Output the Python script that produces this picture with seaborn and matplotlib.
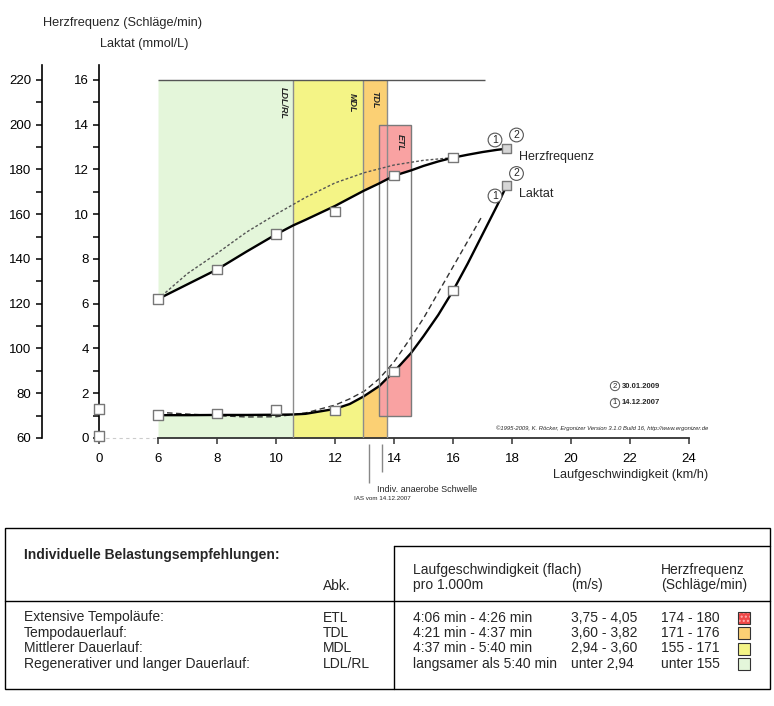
import numpy as np
import pandas as pd
import matplotlib.pyplot as plt
import seaborn as sns
from matplotlib.patches import Rectangle

sns.set_style("ticks")
plt.rcParams['font.family'] = ['Liberation Sans', 'DejaVu Sans']

# Stufentest 30.01.2009 (durchgezogene Kurven)
speed_2009 = [6, 7, 8, 9, 10, 10.58, 11, 12, 12.5, 12.96, 13.5, 13.75, 14, 14.58,
              15, 15.5, 16, 16.5, 17, 17.5, 17.82]
hf_2009 = [122.1, 128.7, 135.3, 143.3, 151.0, 155.0, 157.5, 163.7, 167.2, 170.4, 173.8,
           175.5, 177.2, 179.6, 181.6, 183.6, 185.3, 186.6, 187.8, 188.8, 189.3]
laktat_2009 = [1.02, 1.02, 1.03, 1.03, 1.04, 1.05, 1.08, 1.30, 1.52, 1.85, 2.32, 2.65,
               2.96, 3.80, 4.55, 5.50, 6.58, 7.80, 9.10, 10.40, 11.28]

# Stufentest 14.12.2007 (gestrichelte Kurven)
speed_hf_2007 = [6, 7, 8, 9, 10, 11, 12, 13, 14, 15, 16]
hf_2007 = [122.1, 133.5, 142.5, 152.0, 160.0, 167.5, 174.0, 178.6, 182.0, 184.1, 185.3]
speed_lak_2007 = [6, 7, 8, 9, 10, 11, 12, 12.5, 13, 13.5, 14, 14.5, 15, 15.5, 16, 16.5, 17]
laktat_2007 = [1.15, 1.07, 1.00, 0.94, 0.95, 1.12, 1.47, 1.75, 2.10, 2.65, 3.40, 4.35,
               5.35, 6.50, 7.65, 8.80, 9.95]

# Messpunkte
speed_pts = [6, 8, 10, 12, 14, 16, 17.82]
hf_pts = [122.1, 135.2, 151.2, 161.3, 177.2, 185.3, 189.3]
laktat_pts = [1.03, 1.10, 1.27, 1.22, 2.98, 6.58, 11.28]
pts_fill = ['w', 'w', 'w', 'w', 'w', 'w', 'g']
rest_laktat = 1.3
rest_hf = 61

# Trainingsbereiche
zone_names = ['LDL/RL', 'MDL', 'TDL']
zone_from = [6, 10.58, 12.96]
zone_to = [10.58, 12.96, 13.75]
zone_colors = ['#E4F6DA', '#F4F486', '#FBD074']
etl_from, etl_to = 13.5, 14.58
etl_laktat_min, etl_hf_max = 1, 200
etl_color = '#F9A2A2'
ias_2007, ias_2009 = 13.15, 13.59

# Tabelle
tab_labels = ['Extensive Tempoläufe:', 'Tempodauerlauf:', 'Mittlerer Dauerlauf:',
              'Regenerativer und langer Dauerlauf:']
tab_abk = ['ETL', 'TDL', 'MDL', 'LDL/RL']
tab_pace = ['4:06 min - 4:26 min', '4:21 min - 4:37 min', '4:37 min - 5:40 min',
            'langsamer als 5:40 min']
tab_ms = ['3,75 - 4,05', '3,60 - 3,82', '2,94 - 3,60', 'unter 2,94']
tab_hf = ['174 - 180', '171 - 176', '155 - 171', 'unter 155']
tab_colors = ['#F04848', '#FBD074', '#F4F486', '#E4F6DA']

W, H = 774, 706
fig = plt.figure(figsize=(W / 100, H / 100), dpi=100)


def fx(px):
    return px / W


def fy(py):
    return 1 - py / H


ax = fig.add_axes([fx(99), fy(438), (689 - 99) / W, (438 - 65) / H])


def fwd(x):
    x = np.asarray(x, dtype=float)
    return np.where(x < 6, 4 + x / 3, x)


def inv(x):
    x = np.asarray(x, dtype=float)
    return np.where(x < 6, (x - 4) * 3, x)


ax.set_xscale('function', functions=(fwd, inv))
ax2 = ax.twinx()

df09 = pd.DataFrame({'v': speed_2009, 'hf': hf_2009, 'lak': laktat_2009})

# Bereiche: oberhalb der HF-Kurve und unterhalb der Laktatkurve
for a, b, c in zip(zone_from, zone_to, zone_colors):
    m = (df09.v >= a) & (df09.v <= b)
    ax.fill_between(df09.v[m], 0, df09.lak[m], color=c, lw=0, zorder=1)
    ax2.fill_between(df09.v[m], df09.hf[m], 220, color=c, lw=0, zorder=1)
m = (df09.v >= etl_from) & (df09.v <= etl_to)
ax.fill_between(df09.v[m], etl_laktat_min, df09.lak[m], color=etl_color, lw=0, zorder=1)
ax2.fill_between(df09.v[m], df09.hf[m], etl_hf_max, color=etl_color, lw=0, zorder=1)

ax2.vlines(zone_to, 60, 220, color='#8c8c8c', lw=1, zorder=2)
ax2.add_patch(Rectangle((etl_from, 60 + etl_laktat_min * 10), etl_to - etl_from,
                        etl_hf_max - 60 - etl_laktat_min * 10,
                        fill=False, ec='#7a7a7a', lw=1, zorder=2))
ax2.hlines(220, 6, 17.1, color='#555555', lw=1, zorder=2)

# Bereichsnamen (in HF-Koordinaten)
label_pos = {'LDL/RL': (10.24, 209.5), 'MDL': (12.58, 210), 'TDL': (13.36, 211),
             'ETL': (14.2, 192)}
for name, (x, y) in label_pos.items():
    ax2.text(x, y, name, rotation=-90, fontsize=6.5, fontweight='bold', style='italic',
             ha='center', va='center', zorder=6)

# Kurven
sns.lineplot(x=speed_hf_2007, y=hf_2007, ax=ax2, color='#555555', lw=1,
             linestyle=(0, (2, 1.5)), sort=False, estimator=None, zorder=3)
sns.lineplot(x=speed_2009, y=hf_2009, ax=ax2, color='black', lw=1.7,
             sort=False, estimator=None, zorder=4)
sns.lineplot(x=speed_lak_2007, y=laktat_2007, ax=ax, color='#333333', lw=1,
             linestyle=(0, (4, 2.5)), sort=False, estimator=None, zorder=3)
sns.lineplot(x=speed_2009, y=laktat_2009, ax=ax, color='black', lw=1.7,
             sort=False, estimator=None, zorder=4)

pal = {'w': 'white', 'g': '#d6d6d6'}
sns.scatterplot(x=speed_pts, y=hf_pts, hue=pts_fill, palette=pal, ax=ax2, marker='s',
                s=45, edgecolor='#777777', linewidth=1, legend=False, zorder=5)
sns.scatterplot(x=speed_pts, y=laktat_pts, hue=pts_fill, palette=pal, ax=ax, marker='s',
                s=45, edgecolor='#777777', linewidth=1, legend=False, zorder=5)
ax.scatter([0], [rest_laktat], marker='s', s=45, c='white', edgecolors='#777777',
           linewidths=1, zorder=6, clip_on=False)
ax2.scatter([0], [rest_hf], marker='s', s=45, c='white', edgecolors='#777777',
            linewidths=1, zorder=6, clip_on=False)

# Achsen
ax.set_xlim(0, 24)
ax.set_ylim(0, 16.67)
ax2.set_ylim(60, 226.7)
ax.set_xlabel('')
ax.set_ylabel('')
ax2.set_ylabel('')

ax.set_xticks([0, 6, 8, 10, 12, 14, 16, 18, 20, 22, 24])
ax.set_xticklabels(['0', '6', '8', '10', '12', '14', '16', '18', '20', '22', '24'])
ax.set_yticks(range(0, 17, 2))
ax.set_yticks(range(1, 16, 2), minor=True)
ax2.set_yticks(range(60, 221, 20))
ax2.set_yticks(range(70, 211, 20), minor=True)

for s in ['top', 'right']:
    ax.spines[s].set_visible(False)
ax.spines['bottom'].set_bounds(6, 24)
ax.spines['bottom'].set_color('#333333')
ax.spines['bottom'].set_linewidth(1.3)
ax.spines['left'].set_linewidth(1.2)
ax.spines['left'].set_color('black')
ax.hlines(0, 0, 6, color='#cccccc', lw=0.8, linestyle=(0, (3, 3)), clip_on=False)

ax2.yaxis.tick_left()
for s in ['top', 'right', 'bottom']:
    ax2.spines[s].set_visible(False)
ax2.spines['left'].set_visible(True)
ax2.spines['left'].set_position(('axes', (42 - 99) / 590))
ax2.spines['left'].set_linewidth(1.2)
ax2.spines['left'].set_color('black')

for a in (ax, ax2):
    a.tick_params(axis='y', which='major', direction='out', length=4.5, width=1.1,
                  labelsize=9.5, pad=3, colors='black')
    a.tick_params(axis='y', which='minor', direction='out', length=4, width=1.1,
                  colors='black')
ax.tick_params(axis='x', direction='out', length=4.5, width=1.1, labelsize=9.5, pad=6,
               colors='#333333', labelcolor='black')

# Beschriftungen
fig.text(fx(43), fy(23), 'Herzfrequenz (Schläge/min)', fontsize=9.2, va='center')
fig.text(fx(100), fy(44), 'Laktat (mmol/L)', fontsize=9.2, va='center')
fig.text(fx(553), fy(475), 'Laufgeschwindigkeit (km/h)', fontsize=9.2, va='center')
fig.text(fx(519), fy(157), 'Herzfrequenz', fontsize=9, va='center')
fig.text(fx(519), fy(194), 'Laktat', fontsize=9, va='center')

circ = dict(boxstyle='circle,pad=0.18', fc='white', ec='#555555', lw=0.8)
for (px, py, t) in [(495, 140, '1'), (516.5, 135, '2'), (516.5, 173.5, '2'),
                    (495, 196, '1')]:
    fig.text(fx(px), fy(py), t, fontsize=7.5, ha='center', va='center', bbox=circ)

circ_s = dict(boxstyle='circle,pad=0.15', fc='white', ec='#555555', lw=0.7)
fig.text(fx(615), fy(386), '2', fontsize=5.5, ha='center', va='center', bbox=circ_s)
fig.text(fx(615), fy(403), '1', fontsize=5.5, ha='center', va='center', bbox=circ_s)
fig.text(fx(622), fy(386), '30.01.2009', fontsize=5.5, fontweight='bold', va='center')
fig.text(fx(622), fy(403), '14.12.2007', fontsize=5.5, fontweight='bold', va='center')
fig.text(fx(708), fy(428), '©1995-2009, K. Röcker, Ergonizer Version 3.1.0 Build 16, '
         'http://www.ergonizer.de', fontsize=4.2, style='italic', ha='right', va='center')

ax.vlines(ias_2007, -0.27, -2.0, color='#888888', lw=1, clip_on=False)
ax.vlines(ias_2009, -0.27, -1.52, color='#888888', lw=1, clip_on=False)
fig.text(fx(377), fy(489), 'Indiv. anaerobe Schwelle', fontsize=6.5, va='center')
fig.text(fx(354), fy(498), 'IAS vom 14.12.2007', fontsize=4.5, va='center')

# Tabelle
tab = fig.add_axes([0, 0, 1, 1])
tab.set_xlim(0, W)
tab.set_ylim(H, 0)
tab.axis('off')
tab.add_patch(Rectangle((4.5, 527.5), 765, 161, fill=False, ec='black', lw=1))
tab.plot([394, 394], [546, 688.5], color='black', lw=1)
tab.plot([394, 769.5], [546, 546], color='black', lw=1)
tab.plot([4.5, 769.5], [601, 601], color='black', lw=1)

tab.text(24, 555, 'Individuelle Belastungsempfehlungen:', fontsize=10, fontweight='bold',
         va='center')
tab.text(323, 586, 'Abk.', fontsize=10, va='center')
tab.text(413, 570, 'Laufgeschwindigkeit (flach)', fontsize=10, va='center')
tab.text(413, 585, 'pro 1.000m', fontsize=10, va='center')
tab.text(571, 585, '(m/s)', fontsize=10, va='center')
tab.text(661, 570, 'Herzfrequenz', fontsize=10, va='center')
tab.text(661, 585, '(Schläge/min)', fontsize=10, va='center')

row_y = [617.5, 633, 648.5, 664]
for i, y in enumerate(row_y):
    tab.text(24, y, tab_labels[i], fontsize=10, va='center')
    tab.text(323, y, tab_abk[i], fontsize=10, va='center')
    tab.text(413, y, tab_pace[i], fontsize=10, va='center')
    tab.text(571, y, tab_ms[i], fontsize=10, va='center')
    tab.text(661, y, tab_hf[i], fontsize=10, va='center')
    if i == 0:
        tab.add_patch(Rectangle((738, y - 6), 12, 12, fc=tab_colors[i], ec='#ffb0b0',
                                hatch='....', lw=0))
    else:
        tab.add_patch(Rectangle((738, y - 6), 12, 12, fc=tab_colors[i], lw=0))
    tab.add_patch(Rectangle((738, y - 6), 12, 12, fill=False, ec='#333333', lw=0.8))

fig.savefig('out.png', dpi=100)
